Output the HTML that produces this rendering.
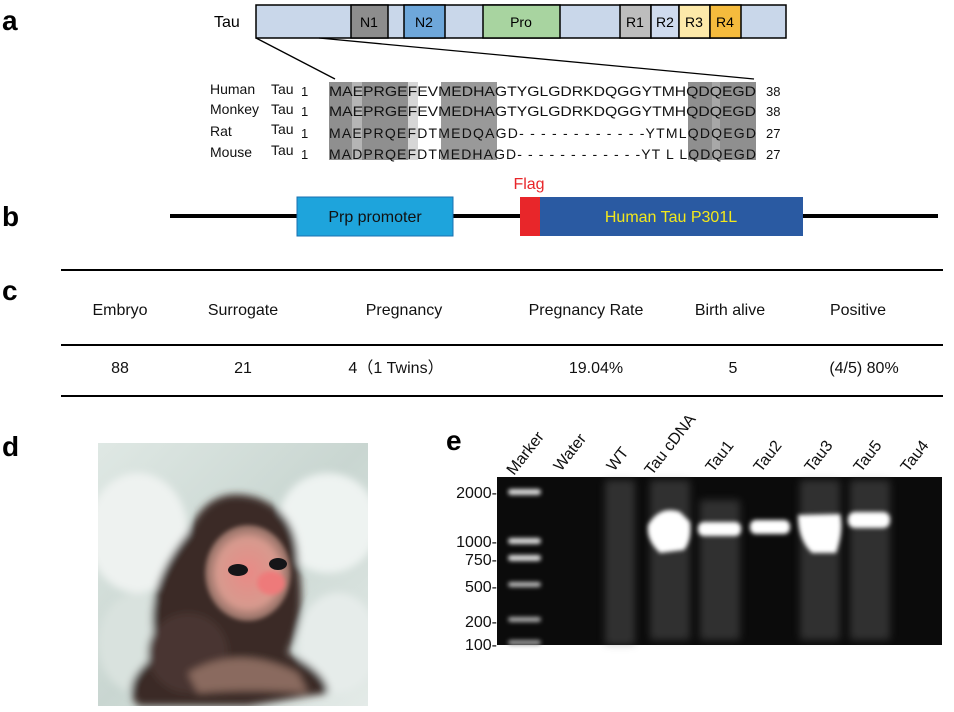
<!DOCTYPE html>
<html><head><meta charset="utf-8"><style>
html,body{margin:0;padding:0;background:#fff;}
svg{display:block;font-family:"Liberation Sans",Arial,sans-serif;}
</style></head><body>
<svg width="954" height="712" viewBox="0 0 954 712" xmlns="http://www.w3.org/2000/svg">
<defs>
<filter id="blur2"><feGaussianBlur stdDeviation="2"/></filter>
<filter id="blur4"><feGaussianBlur stdDeviation="4"/></filter>
<filter id="blur8"><feGaussianBlur stdDeviation="8"/></filter>
<radialGradient id="face" cx="0.5" cy="0.5" r="0.5"><stop offset="0" stop-color="#e98a86"/><stop offset="0.7" stop-color="#d79a8e"/><stop offset="1" stop-color="#8a6a60"/></radialGradient>
<linearGradient id="cloth" x1="0" y1="0" x2="1" y2="1"><stop offset="0" stop-color="#dfe8e4"/><stop offset="0.5" stop-color="#c9d6d1"/><stop offset="1" stop-color="#e4ebe8"/></linearGradient>
</defs>
<!-- panel labels -->
<g font-weight="bold" font-size="28" fill="#000">
<text x="2" y="30">a</text>
<text x="2" y="226">b</text>
<text x="2" y="300">c</text>
<text x="2" y="456">d</text>
<text x="446" y="450">e</text>
</g>
<!-- panel a -->
<text x="214" y="27" font-size="16">Tau</text>
<rect x="256" y="5" width="530" height="33" fill="#c9d7ea" stroke="#000" stroke-width="1.5"/>
<g stroke="#000" stroke-width="1.5">
<rect x="351" y="5" width="37" height="33" fill="#8d8d8d"/>
<rect x="404" y="5" width="41" height="33" fill="#6ea7da"/>
<rect x="483" y="5" width="77" height="33" fill="#a8d4a0"/>
<rect x="620" y="5" width="31" height="33" fill="#bdbdbd"/>
<rect x="651" y="5" width="28" height="33" fill="#cfdbee"/>
<rect x="679" y="5" width="31" height="33" fill="#fde9a9"/>
<rect x="710" y="5" width="31" height="33" fill="#f5bb3d"/>
</g>
<g font-size="14" text-anchor="middle">
<text x="369" y="27">N1</text><text x="424" y="27">N2</text><text x="521" y="27">Pro</text>
<text x="635" y="27">R1</text><text x="665" y="27">R2</text><text x="694" y="27">R3</text><text x="725" y="27">R4</text>
</g>
<line x1="256" y1="38" x2="335" y2="79" stroke="#000" stroke-width="1.3"/>
<line x1="319" y1="38" x2="754" y2="79" stroke="#000" stroke-width="1.3"/>
<!-- shading -->
<g fill="#8f8f8f">
<rect x="329" y="82" width="79" height="78"/>
<rect x="441" y="82" width="56" height="78" fill="#999"/>
<rect x="688" y="82" width="68" height="78"/>
</g>
<rect x="352" y="82" width="10" height="78" fill="#b5b5b5"/>
<rect x="408" y="82" width="10" height="78" fill="#d6d6d6"/>
<rect x="712" y="82" width="8" height="78" fill="#a8a8a8"/>
<g font-size="14" fill="#111">
<text x="210" y="94">Human</text><text x="271" y="94">Tau</text><text x="301" y="96" font-size="13">1</text>
<text x="210" y="114">Monkey</text><text x="271" y="114">Tau</text><text x="301" y="116" font-size="13">1</text>
<text x="210" y="136">Rat</text><text x="271" y="134">Tau</text><text x="301" y="138" font-size="13">1</text>
<text x="210" y="157">Mouse</text><text x="271" y="155">Tau</text><text x="301" y="159" font-size="13">1</text>
<text x="329" y="96" textLength="427" lengthAdjust="spacingAndGlyphs">MAEPRGEFEVMEDHAGTYGLGDRKDQGGYTMHQDQEGD</text>
<text x="329" y="116" textLength="427" lengthAdjust="spacingAndGlyphs">MAEPRGEFEVMEDHAGTYGLGDRKDQGGYTMHQDQEGD</text>
<text x="329" y="138" textLength="427" lengthAdjust="spacing">MAEPRQEFDTMEDQAGD- - - - - - - - - - - -YTMLQDQEGD</text>
<text x="329" y="159" textLength="427" lengthAdjust="spacing">MADPRQEFDTMEDHAGD- - - - - - - - - - - -YT L LQDQEGD</text>
<text x="766" y="96" font-size="13">38</text><text x="766" y="116" font-size="13">38</text>
<text x="766" y="138" font-size="13">27</text><text x="766" y="159" font-size="13">27</text>
</g>
<!-- panel b -->
<line x1="170" y1="216" x2="938" y2="216" stroke="#000" stroke-width="4"/>
<rect x="297" y="197" width="156" height="39" fill="#1ea4dc" stroke="#1a70b0" stroke-width="1"/>
<text x="375" y="222" font-size="16" text-anchor="middle" fill="#111">Prp promoter</text>
<rect x="520" y="197" width="20" height="39" fill="#e8262a"/>
<rect x="540" y="197" width="263" height="39" fill="#2a5aa2"/>
<text x="671" y="222" font-size="16" text-anchor="middle" fill="#f3e81b">Human Tau P301L</text>
<text x="529" y="189" font-size="16" text-anchor="middle" fill="#e8262a">Flag</text>
<!-- panel c -->
<line x1="61" y1="270" x2="943" y2="270" stroke="#000" stroke-width="2"/>
<line x1="61" y1="345" x2="943" y2="345" stroke="#000" stroke-width="2"/>
<line x1="61" y1="396" x2="943" y2="396" stroke="#000" stroke-width="2"/>
<g font-size="16" text-anchor="middle" fill="#111">
<text x="120" y="315">Embryo</text><text x="243" y="315">Surrogate</text><text x="404" y="315">Pregnancy</text>
<text x="586" y="315">Pregnancy Rate</text><text x="730" y="315">Birth alive</text><text x="858" y="315">Positive</text>
<text x="120" y="373">88</text><text x="243" y="373">21</text><text x="396" y="373">4（1 Twins）</text>
<text x="596" y="373">19.04%</text><text x="733" y="373">5</text><text x="864" y="373">(4/5) 80%</text>
</g>
<!-- panel d photo -->
<svg x="98" y="443" width="270" height="263" viewBox="0 0 270 263">
<rect width="270" height="263" fill="url(#cloth)"/>
<g filter="url(#blur4)">
<ellipse cx="40" cy="90" rx="50" ry="60" fill="#eef2f0"/>
<ellipse cx="230" cy="80" rx="50" ry="50" fill="#eef3f1"/>
<ellipse cx="240" cy="200" rx="40" ry="50" fill="#e6ecea"/>
<ellipse cx="40" cy="200" rx="40" ry="50" fill="#d9e2de"/>
<path d="M60 210 Q40 150 90 90 Q110 40 160 55 Q200 70 200 120 Q210 170 190 210 Q230 230 230 250 L150 263 L40 263 Q20 240 60 210Z" fill="#3a2a26"/>
<ellipse cx="90" cy="210" rx="40" ry="40" fill="#4a3630"/>
<path d="M90 230 Q140 200 200 230 L210 250 Q150 245 100 250Z" fill="#8a6a5e"/>
</g>
<g filter="url(#blur2)">
<ellipse cx="150" cy="130" rx="43" ry="48" fill="url(#face)"/>
<ellipse cx="173" cy="140" rx="14" ry="12" fill="#ee7a7a"/>
</g>
<ellipse cx="140" cy="127" rx="10" ry="6" fill="#151518"/>
<ellipse cx="180" cy="121" rx="9" ry="6" fill="#151518"/>
</svg>
<!-- panel e gel -->
<rect x="497" y="477" width="445" height="168" fill="#0b0b0b"/>
<g filter="url(#blur4)" opacity="0.35" fill="#777">
<rect x="605" y="480" width="30" height="165"/>
<rect x="650" y="480" width="40" height="160"/>
<rect x="700" y="500" width="40" height="140"/>
<rect x="800" y="480" width="40" height="160"/>
<rect x="850" y="480" width="40" height="160"/>
</g>
<g filter="url(#blur2)" fill="#dcdcdc">
<rect x="508" y="489" width="33" height="6" rx="3"/>
<rect x="508" y="538" width="33" height="6" rx="3"/>
<rect x="508" y="555" width="33" height="6" rx="3"/>
<rect x="508" y="582" width="33" height="5" rx="3" fill="#bbb"/>
<rect x="508" y="617" width="33" height="5" rx="3" fill="#aaa"/>
<rect x="508" y="640" width="33" height="5" rx="3" fill="#999"/>
</g>
<g filter="url(#blur2)" fill="#fff">
<path d="M648 525 Q660 505 680 512 L690 522 Q692 540 684 550 L660 553 Q646 540 648 525Z"/>
<rect x="698" y="522" width="43" height="14" rx="6"/>
<rect x="750" y="520" width="40" height="14" rx="6"/>
<path d="M798 515 L840 514 Q844 530 836 553 L812 553 Q798 540 798 515Z"/>
<rect x="848" y="512" width="42" height="16" rx="7"/>
</g>
<g font-size="16" fill="#111" text-anchor="end">
<text x="497" y="498">2000-</text><text x="497" y="547">1000-</text><text x="497" y="565">750-</text>
<text x="497" y="592">500-</text><text x="497" y="627">200-</text><text x="497" y="650">100-</text>
</g>
<g font-size="16" fill="#111">
<text transform="translate(514,476) rotate(-52)">Marker</text>
<text transform="translate(561,472) rotate(-52)">Water</text>
<text transform="translate(614,472) rotate(-52)">WT</text>
<text transform="translate(652,476) rotate(-52)">Tau cDNA</text>
<text transform="translate(713,473) rotate(-52)">Tau1</text>
<text transform="translate(761,473) rotate(-52)">Tau2</text>
<text transform="translate(812,473) rotate(-52)">Tau3</text>
<text transform="translate(861,473) rotate(-52)">Tau5</text>
<text transform="translate(908,473) rotate(-52)">Tau4</text>
</g>
</svg>
</body></html>
